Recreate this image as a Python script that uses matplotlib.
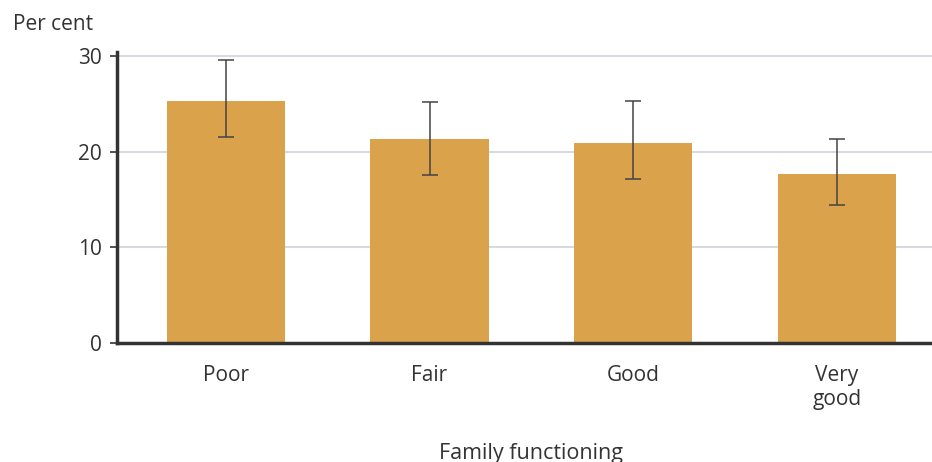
import matplotlib
matplotlib.use("Agg")
import matplotlib.pyplot as plt

plt.rcParams['font.family'] = ['Open Sans', 'DejaVu Sans']

categories = ['Poor', 'Fair', 'Good', 'Very\ngood']
values = [25.3, 21.3, 20.9, 17.7]
err_low = [21.5, 17.6, 17.1, 14.4]
err_high = [29.6, 25.2, 25.3, 21.3]
yticks = [0, 10, 20, 30]

BAR_COLOR = '#DBA24C'
TEXT_COLOR = '#333333'
FS = 15

fig = plt.figure(figsize=(9.32, 4.62), dpi=100)
ax = fig.add_axes([117 / 932, 1 - 343 / 462, 1 - 117 / 932, (343 - 52) / 462])

x = list(range(len(categories)))
yerr = [[v - lo for v, lo in zip(values, err_low)],
        [hi - v for v, hi in zip(values, err_high)]]

ax.bar(x, values, width=0.58, color=BAR_COLOR, zorder=2)
ax.errorbar(x, values, yerr=yerr, fmt='none', ecolor='#444444',
            elinewidth=1.1, capsize=6, capthick=1.1, zorder=3)

ax.set_xlim(-0.534, 3.466)
ax.set_ylim(0, 30.4)
ax.set_yticks(yticks)
ax.set_xticks(x)
ax.set_xticklabels(categories, fontsize=FS, color=TEXT_COLOR, linespacing=1.15)
ax.tick_params(axis='x', length=0, pad=16)
ax.tick_params(axis='y', length=5, width=1.2, color='#333333',
               labelsize=FS, labelcolor=TEXT_COLOR, pad=6)

ax.grid(axis='y', color='#d2d6dc', linewidth=1.3, zorder=0)
ax.set_axisbelow(True)

for side in ['top', 'right']:
    ax.spines[side].set_visible(False)
ax.spines['left'].set_linewidth(2.5)
ax.spines['left'].set_color('#333333')
ax.spines['bottom'].set_linewidth(2.5)
ax.spines['bottom'].set_color('#333333')

fig.text(13 / 932, 1 - 24 / 462, 'Per cent', fontsize=FS, color=TEXT_COLOR,
         ha='left', va='center')
fig.text(531 / 932, 1 - 453 / 462, 'Family functioning', fontsize=FS + 0.5,
         color=TEXT_COLOR, ha='center', va='center')

fig.savefig('out.png', dpi=100)
